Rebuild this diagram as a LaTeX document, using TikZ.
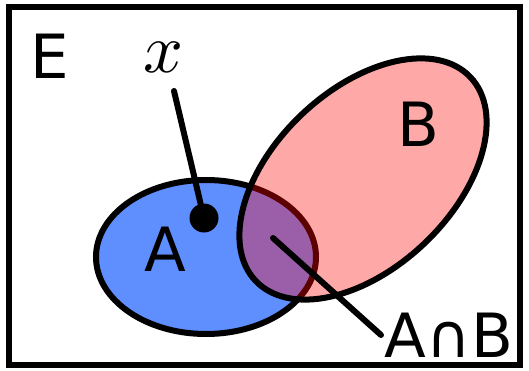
\documentclass[tikz,border=0pt]{standalone}
\usepackage{fontspec}
\usepackage{unicode-math}
\setmathfont{Latin Modern Math}
\setsansfont{DejaVu Sans}
\usepackage{tikz}
\usepackage{xcolor}
\definecolor{setA}{RGB}{95,143,255}
\definecolor{setB}{RGB}{255,168,168}
\definecolor{setAB}{RGB}{154,95,168}
\definecolor{edgeAB}{RGB}{92,0,0}
\tikzset{lbl/.style={inner sep=0pt,font=\sffamily\fontsize{61}{61}\selectfont},
  stick/.style={line width=6pt,line cap=round}}
\begin{document}
\begin{tikzpicture}[x=1pt,y=-1pt]
\useasboundingbox (0,0) rectangle (529,371);

\draw[line width=6.5pt] (9,7) rectangle (520,365);

\def\shapeA{(206,257) ellipse [x radius=110, y radius=77]}
\def\shapeB{[rotate around={43.5:(363,179)}] (363,179) ellipse [x radius=148, y radius=89]}

\fill[setA] \shapeA;
\draw[line width=6pt] \shapeA;
\fill[setB] \shapeB;
\begin{scope}
\clip \shapeB;
\fill[setAB] \shapeA;
\draw[edgeAB,line width=6pt] \shapeA;
\end{scope}
\draw[line width=6pt] \shapeB;

\node[lbl] (E) at (50,56) {E};
\node[lbl] (A) at (165,249) {A};
\node[lbl] (B) at (418,124) {B};
\node[lbl] (AB) at (449,335) {A∩B};
\node[inner sep=0pt,font=\fontsize{70}{70}\selectfont] (x) at (164,57) {$x$};

\node[circle,fill,inner sep=0pt,minimum size=29pt] (dot) at (204,218) {};
\coordinate (xtail) at (174,91);
\coordinate (abhead) at (273,238);
\coordinate (abtail) at (381,335);
\draw[stick] (xtail) -- (dot);
\draw[stick] (abhead) -- (abtail);
\end{tikzpicture}
\end{document}
